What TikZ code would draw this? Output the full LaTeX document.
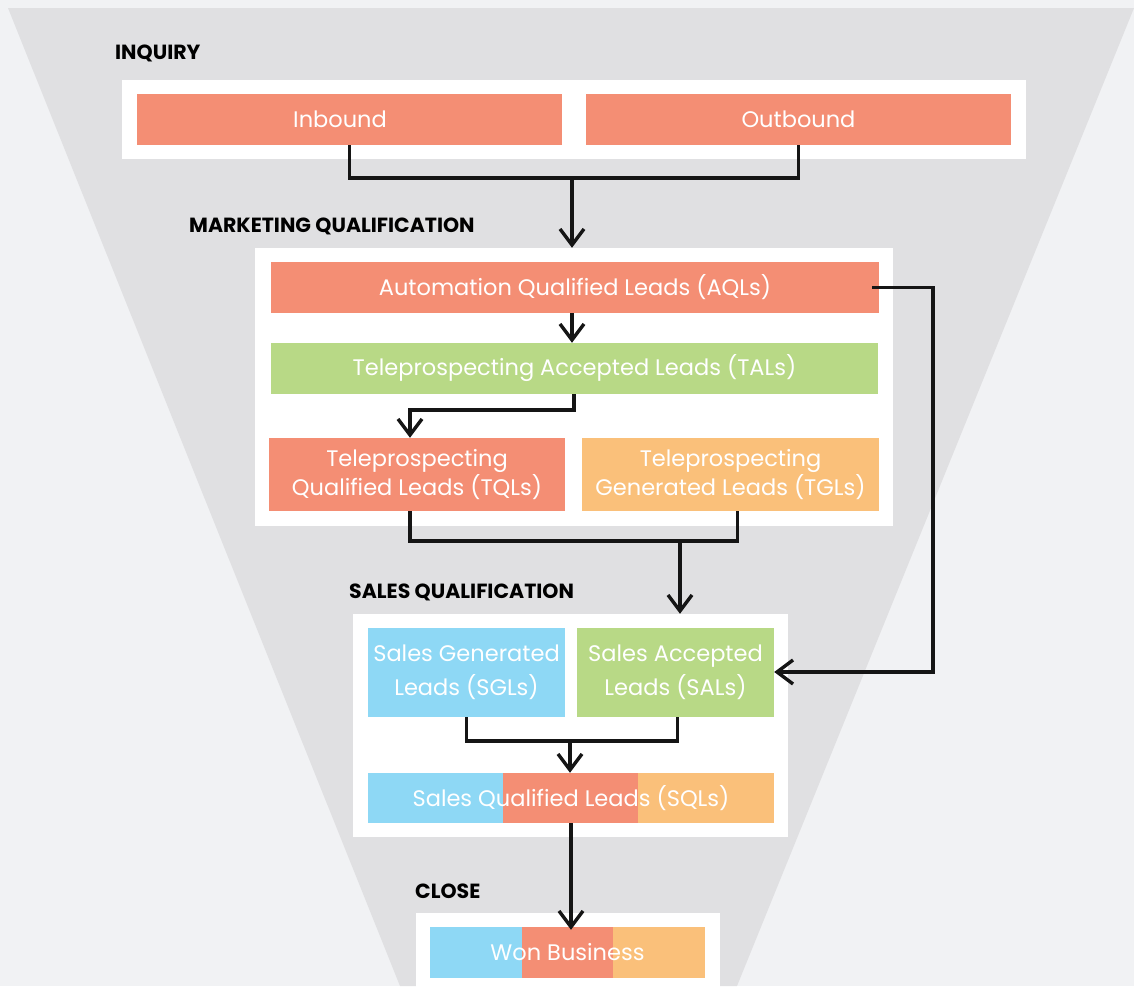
\documentclass[tikz,border=0pt]{standalone}
\usepackage{fontspec}
\setmainfont{Poppins}
\usetikzlibrary{arrows.meta}
\definecolor{bgc}{HTML}{F1F2F4}
\definecolor{funnel}{HTML}{E0E0E2}
\definecolor{salmon}{HTML}{F48E74}
\definecolor{leafg}{HTML}{B8D986}
\definecolor{apric}{HTML}{FAC07A}
\definecolor{skyb}{HTML}{8ED8F5}
\definecolor{inkc}{HTML}{151515}
\tikzset{
  panel/.style={fill=white, draw=none, inner sep=0pt},
  box/.style={draw=none, inner sep=0pt, text=white, align=center,
    font=\fontsize{22.5}{27}\selectfont},
  seg/.style={draw=none, inner sep=0pt},
  stage/.style={anchor=west, inner sep=0pt, text=black, font=\fontsize{20.5}{22}\selectfont\bfseries},
  wire/.style={draw=inkc, line width=3.6pt, line join=miter},
  arr/.style={wire, -{Straight Barb[length=16pt, width=24pt, line width=3.4pt]}},
}
\begin{document}
\begin{tikzpicture}[x=1pt,y=-1pt]
\useasboundingbox (0,0) rectangle (1134,986);
\fill[bgc] (0,0) rectangle (1134,986);
\fill[funnel] (8,8) -- (1134,8) -- (737,986) -- (400,986) -- cycle;

% stage labels
\node[stage] (lInq) at (115,53) {INQUIRY};
\node[stage] (lMkt) at (189,226) {MARKETING QUALIFICATION};
\node[stage] (lSal) at (349,592) {SALES QUALIFICATION};
\node[stage] (lCls) at (415,891) {CLOSE};

% panels
\node[panel, minimum width=904, minimum height=79] (inq) at (573.5,119) {};
\node[panel, minimum width=638, minimum height=278] (mkt) at (574,387) {};
\node[panel, minimum width=435, minimum height=223] (sales) at (570.5,725.5) {};
\node[panel, minimum width=304, minimum height=100] (cls) at (568,963) {};

% inquiry boxes
\node[box, fill=salmon, minimum width=425, minimum height=51] (inb) at (349.5,119.5) {\hspace*{-19pt}Inbound};
\node[box, fill=salmon, minimum width=425, minimum height=51] (outb) at (798.5,119.5) {Outbound};

% marketing boxes
\node[box, fill=salmon, minimum width=608, minimum height=51] (aql) at (575,287.5) {Automation Qualified Leads (AQLs)};
\node[box, fill=leafg, minimum width=607, minimum height=51] (tal) at (574.5,368.5) {Teleprospecting Accepted Leads (TALs)};
\node[box, fill=salmon, minimum width=296, minimum height=73] (tql) at (417,474.5) {Teleprospecting\\Qualified Leads (TQLs)};
\node[box, fill=apric, minimum width=297, minimum height=73] (tgl) at (730.5,474.5) {Teleprospecting\\Generated Leads (TGLs)};

% sales boxes
\node[box, fill=skyb, minimum width=197, minimum height=89, font=\fontsize{22.5}{34}\selectfont] (sgl) at (466.5,672.5) {Sales Generated\\Leads (SGLs)};
\node[box, fill=leafg, minimum width=197, minimum height=89, font=\fontsize{22.5}{34}\selectfont] (sal) at (675.5,672.5) {Sales Accepted\\Leads (SALs)};

% SQL tri-colour bar
\node[seg, fill=skyb, minimum width=135, minimum height=50] (sqlA) at (435.5,798) {};
\node[seg, fill=salmon, minimum width=135, minimum height=50] (sqlB) at (570.5,798) {};
\node[seg, fill=apric, minimum width=136, minimum height=50] (sqlC) at (706,798) {};
\node[box, minimum width=406, minimum height=50] (sql) at (571,798) {Sales Qualified Leads (SQLs)};

% Won business tri-colour bar
\node[seg, fill=skyb, minimum width=92, minimum height=51] (wonA) at (476,952.5) {};
\node[seg, fill=salmon, minimum width=91, minimum height=51] (wonB) at (567.5,952.5) {};
\node[seg, fill=apric, minimum width=92, minimum height=51] (wonC) at (659,952.5) {};
\node[box, minimum width=275, minimum height=51] (won) at (567.5,952.5) {Won Business};

% connectors
\coordinate (j1) at (572,178);
\draw[wire] (inb.south) -- (inb.south |- j1) -- (outb.south |- j1) -- (outb.south);
\draw[arr] (j1) -- (j1 |- mkt.north);

\draw[arr] ([xshift=-3pt]aql.south) -- ([xshift=-3pt]aql.south |- tal.north);

\coordinate (j2) at (574,410);
\draw[arr] (j2 |- tal.south) -- (j2) -- (410,410) -- ([xshift=-7pt]tql.north);

\coordinate (j3) at (680,541);
\draw[wire] ([xshift=-7pt]tql.south) -- ([xshift=-7pt]tql.south |- j3) -- ([xshift=7pt]tgl.south |- j3) -- ([xshift=7pt]tgl.south);
\draw[arr] (j3) -- (j3 |- sales.north);

\coordinate (j4) at (933,672);
\draw[arr] ([xshift=-7pt]aql.east) -- (j4 |- aql.east) -- (j4) -- (sal.east |- j4);

\coordinate (j5) at (570,741);
\draw[wire] (sgl.south) -- (sgl.south |- j5) -- ([xshift=2pt]sal.south |- j5) -- ([xshift=2pt]sal.south);
\draw[arr] (j5) -- (j5 |- sql.north);

\draw[arr] (sql.south) -- ([yshift=-3pt]sql.south |- won.north);
\end{tikzpicture}
\end{document}
